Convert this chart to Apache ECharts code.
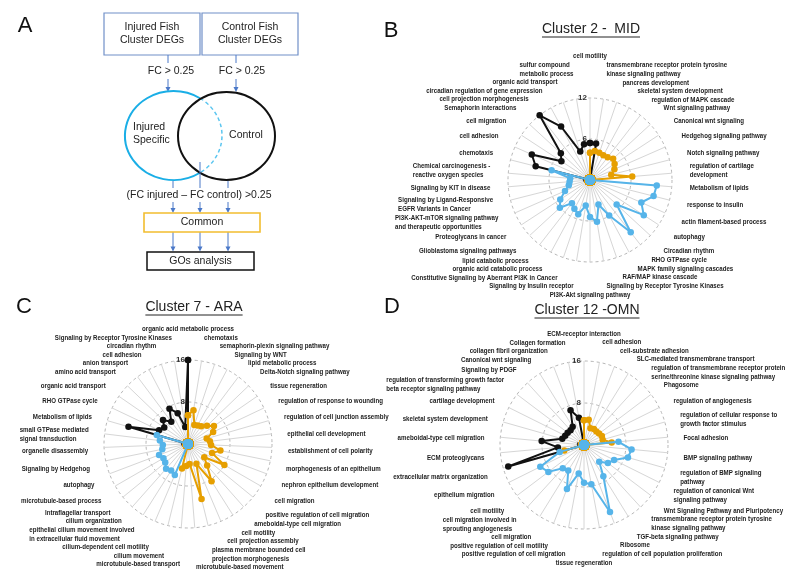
<!DOCTYPE html>
<html><head><meta charset="utf-8">
<script src="https://cdn.jsdelivr.net/npm/echarts@6/dist/echarts.min.js"></script>
<style>html,body{margin:0;padding:0;background:#fff}#c{width:792px;height:579px}</style>
</head><body><div id="c"></div>
<script>
// ---------------- DATA ----------------
const B_categories = [
'cell motility',
'transmembrane receptor protein tyrosine\nkinase signaling pathway',
'pancreas development',
'skeletal system development',
'regulation of MAPK cascade',
'Wnt signaling pathway',
'Canonical wnt signaling',
'Hedgehog signaling pathway',
'Notch signaling pathway',
'regulation of cartilage\ndevelopment',
'Metabolism of lipids',
'response to insulin',
'actin filament-based process',
'autophagy',
'Circadian rhythm',
'RHO GTPase cycle',
'MAPK family signaling cascades',
'RAF/MAP kinase cascade',
'Signaling by Receptor Tyrosine Kinases',
'PI3K-Akt signaling pathway',
'Signaling by Insulin receptor',
'Constitutive Signaling by Aberrant PI3K in Cancer',
'organic acid catabolic process',
'lipid catabolic process',
'Glioblastoma signaling pathways',
'Proteoglycans in cancer',
'PI3K-AKT-mTOR signaling pathway\nand therapeutic opportunities',
'Signaling by Ligand-Responsive\nEGFR Variants in Cancer',
'Signaling by KIT in disease',
'Chemical carcinogenesis -\nreactive oxygen species',
'chemotaxis',
'cell adhesion',
'cell migration',
'Semaphorin interactions',
'cell projection morphogenesis',
'circadian regulation of gene expression',
'organic acid transport',
'sulfur compound\nmetabolic process'
];
const B_black  = [5.4,5.4,0,0,0,0,0,0,0,0, 0,0,0,0,0,0,0,0,0,0, 0,0,0,0,0,0,0,0,0,0, 8.2,9.3,5.0,5.8,12.0,8.9,4.4,5.3];
const B_orange = [4.0,4.3,4.2,4.1,4.2,4.6,4.3,3.9,3.2,6.2, 0,0,0,0,0,0,0,0,0,0, 0,0,0,0,0,0,0,0,0,0, 0,0,0,0,0,0,0,0];
const B_blue   = [0,0,0,0,0,0,0,0,0,0, 9.8,9.6,8.2,9.4,5.3,9.7,5.9,3.8,6.2,5.4, 3.8,5.3,4.8,4.3,6.0,5.2,4.0,3.2,3.0,2.9, 5.8,0,0,0,0,0,0,0];
const B_ticks  = [0, 6, 12];

const C_categories = [
'organic acid metabolic process',
'chemotaxis',
'semaphorin-plexin signaling pathway',
'Signaling by WNT',
'lipid metabolic process',
'Delta-Notch signaling pathway',
'tissue regeneration',
'regulation of response to wounding',
'regulation of cell junction assembly',
'epithelial cell development',
'establishment of cell polarity',
'morphogenesis of an epithelium',
'nephron epithelium development',
'cell migration',
'positive regulation of cell migration',
'ameboidal-type cell migration',
'cell motility',
'cell projection assembly',
'plasma membrane bounded cell\nprojection morphogenesis',
'microtubule-based movement',
'microtubule-based transport',
'cilium movement',
'cilium-dependent cell motility',
'epithelial cilium movement involved\nin extracellular fluid movement',
'cilium organization',
'Intraflagellar transport',
'microtubule-based process',
'autophagy',
'Signaling by Hedgehog',
'organelle disassembly',
'small GTPase mediated\nsignal transduction',
'Metabolism of lipids',
'RHO GTPase cycle',
'organic acid transport',
'amino acid transport',
'anion transport',
'cell adhesion',
'circadian rhythm',
'Signaling by Receptor Tyrosine Kinases'
];
const C_black  = [16, 0,0,0,0,0,0,0,0,0,0, 0,0,0,0,0,0,0,0,0,0, 0,0,0,0,0,0,0,0,0,0, 11.8,6.1,5.5,6.6,5.3,7.6,6.2,3.3];
const C_orange = [5.5,6.5,3.8,4.0,4.2,5.0,6.0,5.3,3.7,4.2, 4.4,6.3,4.9,8.0,4.0,5.5,8.4,4.1,10.8,3.8, 4.2,4.8, 0,0,0,0,0,0,0,0,0,0,0,0,0,0,0,0,0];
const C_blue   = [0,0,0,0,0,0,0,0,0,0, 0,0,0,0,0,0,0,0,0,0, 0,0, 6.4,6.0,6.3,5.6,5.4,5.9,5.0,4.8,5.4,6.2, 0,0,0,0,0,0,0];
const C_ticks  = [0, 8, 16];

const D_categories = [
'ECM-receptor interaction',
'cell adhesion',
'cell-substrate adhesion',
'SLC-mediated transmembrane transport',
'regulation of transmembrane receptor protein\nserine/threonine kinase signaling pathway',
'Phagosome',
'regulation of angiogenesis',
'regulation of cellular response to\ngrowth factor stimulus',
'Focal adhesion',
'BMP signaling pathway',
'regulation of BMP signaling\npathway',
'regulation of canonical Wnt\nsignaling pathway',
'Wnt Signaling Pathway and Pluripotency',
'transmembrane receptor protein tyrosine\nkinase signaling pathway',
'TGF-beta signaling pathway',
'Ribosome',
'regulation of cell population proliferation',
'tissue regeneration',
'positive regulation of cell migration',
'positive regulation of cell motility',
'cell migration',
'cell migration involved in\nsprouting angiogenesis',
'cell motility',
'epithelium migration',
'extracellular matrix organization',
'ECM proteoglycans',
'ameboidal-type cell migration',
'skeletal system development',
'cartilage development',
'regulation of transforming growth factor\nbeta receptor signaling pathway',
'Signaling by PDGF',
'Canonical wnt signaling',
'collagen fibril organization',
'Collagen formation'
];
const D_black  = [0,0,0,0,0,0,0,0,0,0, 0,0,0,0,0,0,0,0,0,0, 0,0,0,0, 15.0,5.0,8.1,4.3,4.0,3.9,3.8,4.1,7.1,5.3];
const D_orange = [4.7,4.9,3.4,3.6,3.5,3.6,3.8,3.7,5.3, 0,0,0,0,0,0,0,0,0,0,0,0,0,0,0, 3.9, 0,0,0,0,0,0,0,0,0];
const D_blue   = [0,0,0,0,0,0,0,0, 6.6,9.1,8.7,6.4,5.7,4.3,7.0,13.7,7.6,7.2,5.5,9.0,5.7,6.0,8.5,9.3,4.8, 0,0,0,0,0,0,0,0,0];
const D_ticks  = [0, 8, 16];

// ---------------- STYLE / LAYOUT ----------------
const COL_BLACK = '#111111', COL_ORANGE = '#E69F00', COL_BLUE = '#56B4E9';
const LABEL_FS = 7.5, SX = 0.82, LH = 9;
const LABEL_FAMILY = 'Liberation Sans';

const panels = [
  {cats: B_categories, black: B_black, orange: B_orange, blue: B_blue, ticks: B_ticks,
   cx: 590, cy: 180, R: 82, rx: 100, ry: 106, ly: -1, title: 'Cluster 2 -  MID', tx: 591, ty: 29, ul: 37},
  {cats: C_categories, black: C_black, orange: C_orange, blue: C_blue, ticks: C_ticks,
   cx: 188, cy: 444, R: 84, rx: 100, ry: 108, ly: 3, title: 'Cluster 7 - ARA', tx: 194, ty: 307, ul: 315},
  {cats: D_categories, black: D_black, orange: D_orange, blue: D_blue, ticks: D_ticks,
   cx: 584, cy: 445, R: 84, rx: 100, ry: 106, ly: 3, title: 'Cluster 12 -OMN', tx: 587, ty: 310, ul: 318}
];

const mctx = document.createElement('canvas').getContext('2d');

function layoutLabels(cats, cx, cy, rx, ry) {
  mctx.font = 'bold ' + LABEL_FS + 'px "' + LABEL_FAMILY + '"';
  const N = cats.length;
  const items = cats.map((t, i) => {
    const th = i * 2 * Math.PI / N;
    const s = Math.sin(th), c = Math.cos(th);
    const lines = t.split('\n');
    const w = Math.max.apply(null, lines.map(l => mctx.measureText(l).width)) * SX;
    const h = lines.length * LH;
    const ax = cx + rx * s;
    let left;
    if (Math.abs(s) < 0.05) left = ax - w / 2; else if (s > 0) left = ax; else left = ax - w;
    const y0 = cy - ry * c;
    return {t, i, w, h, left, right: left + w, y: y0, y0};
  });
  for (let it = 0; it < 500; it++) {
    let moved = false;
    for (let a = 0; a < N; a++) for (let b = a + 1; b < N; b++) {
      const A = items[a], B = items[b];
      if (A.right + 1 < B.left || B.right + 1 < A.left) continue;
      const need = (A.h + B.h) / 2 - 0.5;
      const dir = B.y0 >= A.y0 ? 1 : -1;
      const d = (B.y - A.y) * dir;
      if (d >= need - 0.01) continue;
      const p = (need - d) / 2;
      A.y -= dir * p; B.y += dir * p; moved = true;
    }
    if (!moved) break;
  }
  return items;
}

function toPolarData(vals) {
  const N = vals.length;
  const d = vals.map((v, i) => [v, i]);
  d.push([vals[0], N]);
  return d;
}

const polar = [], angleAxis = [], radiusAxis = [], series = [], graphic = [];

panels.forEach((p, k) => {
  const N = p.cats.length;
  const tmax = p.ticks[p.ticks.length - 1];
  const tstep = p.ticks[1] - p.ticks[0];
  polar.push({center: [p.cx, p.cy], radius: p.R});
  angleAxis.push({polarIndex: k, type: 'value', min: 0, max: N, interval: 1, startAngle: 90, clockwise: true,
    axisLine: {show: false}, axisTick: {show: false}, axisLabel: {show: false},
    splitLine: {show: true, lineStyle: {color: '#d6d6d6', width: 1}}});
  radiusAxis.push({polarIndex: k, type: 'value', min: p.ticks[0], max: tmax, interval: tstep,
    axisLine: {show: false}, axisTick: {show: false},
    axisLabel: {show: true, fontSize: 8, fontWeight: 'bold', color: '#333', fontFamily: LABEL_FAMILY, margin: 3},
    splitLine: {show: true, lineStyle: {color: '#b5b5b5', width: 1, type: [3, 3]}}});
  const mk = (vals, color, zeroSize, z) => ({
    type: 'line', coordinateSystem: 'polar', polarIndex: k, data: toPolarData(vals),
    symbol: 'circle', symbolSize: v => (v[0] === 0 ? zeroSize : 6.5),
    lineStyle: {color, width: 2}, itemStyle: {color}, z, silent: true, animation: false
  });
  series.push(mk(p.black, COL_BLACK, 6, 3));
  series.push(mk(p.orange, COL_ORANGE, 12, 4));
  series.push(mk(p.blue, COL_BLUE, 10, 5));

  // category labels
  layoutLabels(p.cats, p.cx, p.cy + p.ly, p.rx, p.ry).forEach(it => {
    graphic.push({type: 'text', x: it.left, y: it.y, scaleX: SX, silent: true, z: 10,
      style: {text: it.t, fontSize: LABEL_FS, fontFamily: LABEL_FAMILY, fontWeight: 'bold',
        fill: '#1c1c1c', align: 'left', verticalAlign: 'middle', lineHeight: LH}});
  });
  // title + underline
  mctx.font = '14px "Liberation Sans"';
  const tw = mctx.measureText(p.title).width;
  graphic.push({type: 'text', x: p.tx, y: p.ty, silent: true,
    style: {text: p.title, fontSize: 14, fontFamily: 'Liberation Sans', fill: '#222', align: 'center', verticalAlign: 'middle'}});
  graphic.push({type: 'line', silent: true, shape: {x1: p.tx - tw / 2, y1: p.ul, x2: p.tx + tw / 2, y2: p.ul},
    style: {stroke: '#222', lineWidth: 1}});
});

// panel letters
[['A', 25, 26], ['B', 391, 31], ['C', 24, 307], ['D', 392, 307]].forEach(l => {
  graphic.push({type: 'text', x: l[1], y: l[2], silent: true,
    style: {text: l[0], fontSize: 22, fontFamily: 'Liberation Sans', fill: '#111', align: 'center', verticalAlign: 'middle'}});
});

// ---------------- Panel A flowchart ----------------
const ARROW = '#4a78c8';
const FT = {fontSize: 10.5, fontFamily: 'Liberation Sans', fill: '#222'};
function txt(t, x, y, align, extra) {
  graphic.push({type: 'text', x, y, silent: true,
    style: Object.assign({text: t, align: align || 'center', verticalAlign: 'middle', lineHeight: 13}, FT, extra || {})});
}
function seg(x, y1, y2) {
  graphic.push({type: 'line', silent: true, shape: {x1: x, y1, x2: x, y2}, style: {stroke: ARROW, lineWidth: 1}});
}
function head(x, y) {
  graphic.push({type: 'polygon', silent: true, shape: {points: [[x - 2.5, y - 5], [x + 2.5, y - 5], [x, y]]}, style: {fill: ARROW}});
}
function box(x, y, w, h, stroke, lw) {
  graphic.push({type: 'rect', silent: true, shape: {x, y, width: w, height: h}, style: {fill: '#fff', stroke, lineWidth: lw}});
}
box(104, 13, 96, 42, '#7190c8', 1.2);
box(202, 13, 96, 42, '#7190c8', 1.2);
txt('Injured Fish\nCluster DEGs', 152, 34);
txt('Control Fish\nCluster DEGs', 250, 34);
seg(168, 55, 63); seg(168, 79, 90); head(168, 92);
seg(236, 55, 63); seg(236, 79, 90); head(236, 92);
txt('FC > 0.25', 171, 71);
txt('FC > 0.25', 242, 71);
// venn
const bcx = 173.5, bcy = 135.5, br = 48.5, bsy = 44.5 / 48.5;
const ta = Math.acos((200 - bcx) / br);
graphic.push({type: 'arc', silent: true, x: bcx, y: bcy, scaleY: bsy,
  shape: {cx: 0, cy: 0, r: br, startAngle: ta, endAngle: 2 * Math.PI - ta, clockwise: true},
  style: {stroke: '#1aaee6', lineWidth: 2, fill: null, strokeNoScale: true}});
graphic.push({type: 'arc', silent: true, x: bcx, y: bcy, scaleY: bsy,
  shape: {cx: 0, cy: 0, r: br, startAngle: -ta, endAngle: ta, clockwise: true},
  style: {stroke: '#5cc6f0', lineWidth: 1.5, fill: null, lineDash: [4, 3], strokeNoScale: true}});
graphic.push({type: 'ellipse', silent: true, shape: {cx: 226.5, cy: 136, rx: 48.5, ry: 44},
  style: {stroke: '#111', lineWidth: 2, fill: null}});
txt('Injured\nSpecific', 133, 134, 'left');
txt('Control', 246, 135);
seg(173, 181, 188); seg(200, 162, 188); seg(228, 181, 188);
txt('(FC injured \u2013 FC control) >0.25', 199, 195);
[173, 200, 228].forEach(x => { seg(x, 202, 209); head(x, 213); seg(x, 232, 247); head(x, 251.5); });
box(144, 213, 116, 19, '#f2bd2f', 1.6);
txt('Common', 202, 222.5);
box(147, 252, 107, 18, '#111', 1.5);
txt('GOs analysis', 200.5, 261);

const chart = echarts.init(document.getElementById('c'), null, {renderer: 'canvas'});
chart.setOption({
  animation: false,
  backgroundColor: '#ffffff',
  polar, angleAxis, radiusAxis, series, graphic
});
</script></body></html>
